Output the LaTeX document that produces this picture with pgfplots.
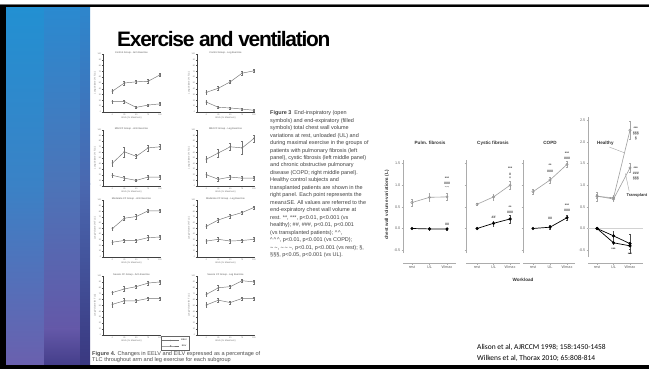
\documentclass[border=0pt]{standalone}
\usepackage{pgfplots}
\pgfplotsset{compat=1.18}
\usepackage{fontspec}
\setmainfont{Liberation Sans}
\newfontfamily\titlefont{Liberation Sans}[LetterSpace=-6]
\newfontfamily\calfont{Carlito}
\definecolor{sAt}{HTML}{2290D2}\definecolor{sAm}{HTML}{3A82C6}\definecolor{sAb}{HTML}{6A60AE}
\definecolor{sBt}{HTML}{2A8AD0}\definecolor{sBm}{HTML}{4C74B8}\definecolor{sBp}{HTML}{6458A8}\definecolor{sBb}{HTML}{443E8A}
\definecolor{sCt}{HTML}{2E86CC}\definecolor{sCm}{HTML}{4A68B0}\definecolor{sCb}{HTML}{3A3880}
\pgfplotsset{
 /pgf/number format/assume math mode=true,
 sm/.style={scale only axis, anchor=south west, width=57bp, xmin=-20, xmax=100, ymin=0, ymax=100,
  axis lines=left, axis line style={-, line width=0.5bp, black!75},
  xtick={0,25,50,75,100}, ytick={0,10,...,100}, tick align=outside, major tick length=1.2bp,
  tick style={line width=0.3bp, black!70},
  tick label style={font=\fontsize{2}{2}\selectfont, text=black!55, inner sep=0.6bp},
  xlabel={Work (\% Maximum)}, ylabel={Lung Volume (\% TLC)},
  label style={font=\fontsize{2.3}{2.3}\selectfont, text=black!55},
  xlabel style={yshift=2.5bp}, ylabel style={yshift=-2.5bp},
  title style={font=\fontsize{2.5}{2.5}\selectfont, text=black!65, at={(0.5,1)}, anchor=north, yshift=-0.5bp},
  clip=false},
 smline/.style={black!55, line width=0.45bp, mark=*, mark size=0.6bp,
  error bars/.cd, y dir=both, y explicit, error bar style={line width=0.3bp, black!55},
  error mark options={rotate=90, mark size=0.9bp, line width=0.3bp, black!55}},
 f3/.style={scale only axis, anchor=south west, clip=false, axis lines=left, separate axis lines,
  axis line style={-, draw=gray!65, line width=0.6bp}, axis x line shift=10bp,
  ymin=-0.566, ymax=1.582, height=93bp,
  xtick={0,1,2}, xticklabels={rest,UL,Wmax}, ytick={-0.5,0,0.5,1,1.5},
  yticklabels={}, tick align=outside, major tick length=1.5bp, tick style={gray!65, line width=0.5bp},
  tick label style={font=\fontsize{3.8}{3.8}\selectfont, text=black!60, inner sep=1bp}},
 opn/.style={gray!75, line width=0.6bp, mark=o, mark size=1.2bp, mark options={gray!85, fill=white, line width=0.5bp},
  error bars/.cd, y dir=both, y explicit, error bar style={gray!70, line width=0.4bp},
  error mark options={rotate=90, mark size=0.9bp, gray!70, line width=0.4bp}},
 fld/.style={black, line width=0.7bp, mark=*, mark size=1.2bp,
  error bars/.cd, y dir=both, y explicit, error bar style={gray!60!black, line width=0.4bp},
  error mark options={rotate=90, mark size=0.9bp, gray!60!black, line width=0.4bp}},
}
\tikzset{ann/.style={font=\fontsize{3.6}{3.6}\selectfont\bfseries, inner sep=0, text=black!80}}
\newcommand{\smallplot}[6]{%
\begin{axis}[sm, at={(#1bp,#2bp)}, height=#3bp, title={#4}]
\addplot[smline] coordinates {#5};
\addplot[smline] coordinates {#6};
\end{axis}}
\begin{document}
\begin{tikzpicture}[x=1bp,y=1bp]
\useasboundingbox (0,0) rectangle (649,369);
\fill[white] (0,0) rectangle (649,369);
% stripes
\shade[top color=sAt, bottom color=sAm] (5.5,185) rectangle (44.2,362.5);
\shade[top color=sAm, bottom color=sAb] (5.5,4) rectangle (44.2,185.2);
\shade[top color=sBt, bottom color=sBm] (44,185) rectangle (80.2,362.5);
\shade[top color=sBm, bottom color=sBp] (44,40) rectangle (80.2,185.2);
\shade[top color=sBp, bottom color=sBb] (44,4) rectangle (80.2,40.2);
\shade[top color=sCt, bottom color=sCm] (80,185) rectangle (90,362.5);
\shade[top color=sCm, bottom color=sCb] (80,4) rectangle (90,185.2);
% frame
\fill[black!55] (0,364.3) rectangle (649,365.4);
\fill[black] (0,362.4) rectangle (649,364.4);
\fill[black] (0,0) rectangle (5.5,364.4);
\fill[black] (0,0) rectangle (649,4);
% title
\node[anchor=base west, inner sep=0, font=\titlefont\bfseries\fontsize{21}{21}\selectfont] at (117,322.3) {Exercise and ventilation};
% Figure 4 small plots
\smallplot{103}{257}{58}{Control Group - Arm Exercise}
 {(0,36) +- (0,3) (25,50) +- (0,3) (50,52) +- (0,3) (75,53) +- (0,3) (100,64) +- (0,3)}
 {(0,18) +- (0,3) (25,18) +- (0,3) (50,8) +- (0,2) (75,12) +- (0,2) (100,14) +- (0,3)}
\smallplot{197}{257}{58}{Control Group - Leg Exercise}
 {(0,34) +- (0,3) (25,41) +- (0,3) (50,52) +- (0,3) (75,67) +- (0,3) (100,71) +- (0,3)}
 {(0,17) +- (0,3) (25,8) +- (0,2) (50,7) +- (0,2) (75,5) +- (0,2) (100,3) +- (0,2)}
\smallplot{103}{183}{56}{Mild CF Group - Arm Exercise}
 {(0,41) +- (0,5) (25,61) +- (0,9) (50,53) +- (0,4) (75,68) +- (0,5) (100,70) +- (0,5)}
 {(0,19) +- (0,4) (25,14) +- (0,4) (50,10) +- (0,2) (75,16) +- (0,3) (100,16) +- (0,4)}
\smallplot{197}{183}{56}{Mild CF Group - Leg Exercise}
 {(0,48) +- (0,5) (25,59) +- (0,7) (50,70) +- (0,6) (75,68) +- (0,12) (100,85) +- (0,6)}
 {(0,20) +- (0,4) (25,12) +- (0,3) (50,16) +- (0,4) (75,14) +- (0,4) (100,14) +- (0,4)}
\smallplot{103}{112}{57}{Moderate CF Group - Arm Exercise}
 {(0,50) +- (0,3) (25,68) +- (0,3) (50,71) +- (0,4) (75,81) +- (0,3) (100,81) +- (0,3)}
 {(0,26) +- (0,3) (25,29) +- (0,3) (50,29) +- (0,3) (75,34) +- (0,4) (100,35) +- (0,4)}
\smallplot{197}{112}{57}{Moderate CF Group - Leg Exercise}
 {(0,54) +- (0,3) (25,65) +- (0,3) (50,72) +- (0,3) (75,78) +- (0,3) (100,87) +- (0,3)}
 {(0,28) +- (0,3) (25,31) +- (0,3) (50,28) +- (0,4) (75,29) +- (0,3) (100,31) +- (0,4)}
\smallplot{103}{34}{59}{Severe CF Group - Arm Exercise}
 {(0,72) +- (0,3) (25,78) +- (0,4) (50,82) +- (0,3) (75,88) +- (0,3) (100,90) +- (0,3)}
 {(0,52) +- (0,4) (25,58) +- (0,4) (50,58) +- (0,3) (75,62) +- (0,3) (100,62) +- (0,3)}
\begin{axis}[sm, at={(197bp,34bp)}, height=59bp, title={Severe CF Group - Leg Exercise},
  legend style={at={(-0.38,-0.14)}, anchor=center, font=\fontsize{2.2}{2.4}\selectfont, draw=black!60, line width=0.3bp, inner sep=0.6bp, row sep=-1.5bp}, legend image post style={mark size=0.4bp}, reverse legend]
\addplot[smline] coordinates {(0,69) +- (0,3) (25,80) +- (0,4) (50,82) +- (0,3) (75,92) +- (0,3) (100,90) +- (0,3)};
\addlegendentry{EILV}
\addplot[smline] coordinates {(0,51) +- (0,4) (25,59) +- (0,4) (50,55) +- (0,3) (75,62) +- (0,3) (100,62) +- (0,3)};
\addlegendentry{EELV}
\end{axis}
\node[anchor=base west, inner sep=0, font=\fontsize{5.6}{6}\selectfont, text=black!70] at (92,13.8) {\textbf{Figure 4.} Changes in EELV and EILV expressed as a percentage of};
\node[anchor=base west, inner sep=0, font=\fontsize{5.6}{6}\selectfont, text=black!70] at (92,7.6) {TLC throughout arm and leg exercise for each subgroup};
% Figure 3 caption
\node[anchor=north west, align=left, inner sep=0, font=\fontsize{5.5}{7.5}\selectfont, text=black!75] at (270,258.5) {%
\textbf{Figure 3}\enspace End-inspiratory (open\\
symbols) and end-expiratory (filled\\
symbols) total chest wall volume\\
variations at rest, unloaded (UL) and\\
during maximal exercise in the groups of\\
patients with pulmonary fibrosis (left\\
panel), cystic fibrosis (left middle panel)\\
and chronic obstructive pulmonary\\
disease (COPD; right middle panel).\\
Healthy control subjects and\\
transplanted patients are shown in the\\
right panel. Each point represents the\\
mean±SE. All values are referred to the\\
end-expiratory chest wall volume at\\
rest. **, ***, p<0.01, p<0.001 (vs\\
healthy); \#\#, \#\#\#, p<0.01, p<0.001\\
(vs transplanted patients); \textasciicircum\,\textasciicircum,\\
\textasciicircum\,\textasciicircum\,\textasciicircum, p<0.01, p<0.001 (vs COPD);\\
\textasciitilde\,\textasciitilde, \textasciitilde\,\textasciitilde\,\textasciitilde, p<0.01, p<0.001 (vs rest); \S,\\
\S\S\S, p<0.05, p<0.001 (vs UL).};
% Figure 3 panels
\begin{axis}[f3, at={(403bp,116bp)}, width=53bp, xmin=-0.514, xmax=2.514, yticklabels={-0.5,0.0,0.5,1.0,1.5}]
\addplot[opn] coordinates {(0,0.6) +- (0,0.08) (1,0.72) +- (0,0.09) (2,0.73) +- (0,0.08)};
\addplot[fld] coordinates {(0,0) +- (0,0) (1,-0.01) +- (0,0.02) (2,-0.01) +- (0,0.02)};
\node[ann] at (axis cs:2,1.17) {***};
\node[ann] at (axis cs:2,1.04) {\#\#\#};
\node[ann] at (axis cs:2,0.93) {\textasciitilde\textasciitilde};
\node[ann] at (axis cs:2,0.1) {\#\#};
\end{axis}
\begin{axis}[f3, at={(466bp,116bp)}, width=54bp, xmin=-0.67, xmax=2.6]
\addplot[opn] coordinates {(0,0.56) +- (0,0.03) (1,0.73) +- (0,0.07) (2,1.0) +- (0,0.09)};
\addplot[fld] coordinates {(0,0) +- (0,0) (1,0.12) +- (0,0.06) (2,0.22) +- (0,0.09)};
\node[ann] at (axis cs:2,1.38) {***};
\node[ann] at (axis cs:2,1.26) {\#};
\node[ann] at (axis cs:2,1.15) {\textasciicircum};
\node[ann] at (axis cs:2,0.48) {**};
\node[ann] at (axis cs:2,0.38) {\#\#\#};
\node[ann] at (axis cs:1,0.27) {\#\#};
\end{axis}
\begin{axis}[f3, at={(523bp,116bp)}, width=52bp, xmin=-0.59, xmax=2.47]
\addplot[opn] coordinates {(0,0.85) +- (0,0.05) (1,1.12) +- (0,0.07) (2,1.48) +- (0,0.07)};
\addplot[fld] coordinates {(0,0) +- (0,0) (1,0.03) +- (0,0.04) (2,0.25) +- (0,0.05)};
\node[ann] at (axis cs:1,1.45) {**};
\node[ann] at (axis cs:1,1.33) {\#\#\#};
\node[ann] at (axis cs:2,1.74) {***};
\node[ann] at (axis cs:2,1.63) {\#\#\#};
\node[ann] at (axis cs:1,0.23) {\#\#};
\node[ann] at (axis cs:2,0.54) {***};
\node[ann] at (axis cs:2,0.43) {\#\#\#};
\end{axis}
\begin{axis}[f3, at={(588bp,112bp)}, width=55bp, height=140bp, xmin=-0.55, xmax=2.79, ymin=-0.658, ymax=2.575,
  axis x line shift=6bp, ytick={-0.5,0,0.5,1,1.5,2,2.5}, yticklabels={-0.5,0.0,0.5,1.0,1.5,2.0,2.5}]
\draw[gray!35, line width=0.4bp] (axis cs:-0.55,0) -- (axis cs:2.79,0);
\addplot[opn] coordinates {(0,0.74) +- (0,0.1) (1,0.71) +- (0,0.06) (2,2.27) +- (0,0.2)};
\addplot[opn] coordinates {(0,0.75) +- (0,0.05) (1,0.68) +- (0,0.05) (2,1.4) +- (0,0.1)};
\addplot[fld] coordinates {(0,0) +- (0,0) (1,-0.17) +- (0,0.1) (2,-0.35) +- (0,0.22)};
\addplot[fld] coordinates {(0,0) +- (0,0) (1,-0.33) +- (0,0.04) (2,-0.4) +- (0,0.08)};
\node[ann] at (axis cs:2.35,2.31) {***};
\node[ann] at (axis cs:2.35,2.19) {\S\S\S};
\node[ann] at (axis cs:2.35,2.07) {\S};
\node[ann] at (axis cs:2.35,1.38) {***};
\node[ann] at (axis cs:2.35,1.27) {\#\#\#};
\node[ann] at (axis cs:2.35,1.16) {\S\S\S};
\node[ann] at (axis cs:1,-0.48) {***};
\node[ann] at (axis cs:2,-0.6) {***};
\node[font=\fontsize{4.6}{4.6}\selectfont\bfseries, text=black!80, inner sep=0] (hl) at (axis cs:0.5,1.96) {Healthy};
\draw[gray!70, line width=0.4bp] (axis cs:0.75,1.88) -- (axis cs:1.65,1.75);
\node[font=\fontsize{4.1}{4.1}\selectfont\bfseries, text=black!80, anchor=west, inner sep=0] at (axis cs:1.78,0.77) {Transplant};
\draw[gray!70, line width=0.4bp] (axis cs:1.72,1.27) -- (axis cs:1.95,0.86);
\end{axis}
% Figure 3 labels
\node[rotate=90, font=\fontsize{4.6}{4.6}\selectfont\bfseries, text=black!80, inner sep=0] at (387,164) {chest wall volume variations (L)};
\node[font=\fontsize{4.6}{4.6}\selectfont\bfseries, text=black!80, inner sep=0] at (430,226) {Pulm. fibrosis};
\node[font=\fontsize{4.6}{4.6}\selectfont\bfseries, text=black!80, inner sep=0] at (493,226) {Cystic fibrosis};
\node[font=\fontsize{4.6}{4.6}\selectfont\bfseries, text=black!80, inner sep=0] at (550,226) {COPD};
\node[font=\fontsize{4.6}{4.6}\selectfont\bfseries, text=black!80, inner sep=0] at (523,89) {Workload};
% citations
\node[anchor=base west, inner sep=0, font=\calfont\fontsize{7.5}{9}\selectfont] at (477,19.6) {Alison et al, AJRCCM 1998; 158:1450-1458};
\node[anchor=base west, inner sep=0, font=\calfont\fontsize{7.5}{9}\selectfont] at (477,9) {Wilkens et al, Thorax 2010; 65:808-814};
\end{tikzpicture}
\end{document}
